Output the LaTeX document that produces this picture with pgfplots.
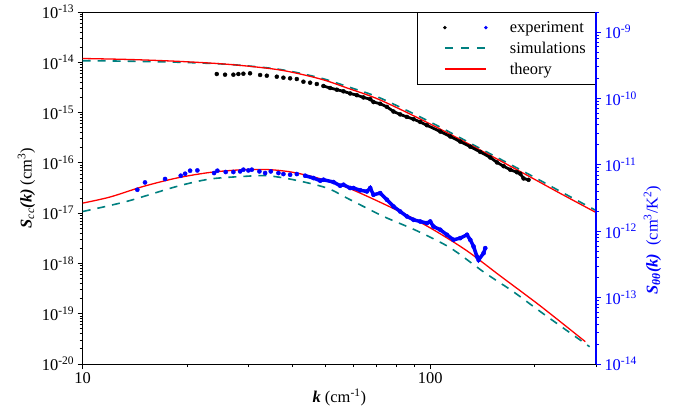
\documentclass[border=0pt]{standalone}
\usepackage{pgfplots}
\pgfplotsset{compat=1.18}
\usepackage{pgfplotstable}
\usepackage{fontspec}
\setmainfont{Liberation Serif}
\definecolor{simc}{RGB}{0,128,128}
\definecolor{thc}{RGB}{255,0,0}
\newcommand{\fs}{\fontsize{16.5}{19}\selectfont}

% upper (left axis) experiment, sparse part
\pgfplotstableread{
k S
24.31 5.85e-15
25.68 5.67e-15
27.14 5.67e-15
28.05 5.85e-15
29.00 5.93e-15
30.31 6.04e-15
32.40 5.59e-15
33.87 5.41e-15
36.19 5.17e-15
37.81 4.94e-15
39.53 4.80e-15
41.32 4.65e-15
43.17 4.11e-15
45.13 3.93e-15
47.18 3.70e-15
}\blackA
% upper experiment, dense part
\pgfplotstableread{
k S
49.29 3.38e-15
51.53 3.08e-15
53.87 2.85e-15
56.28 2.65e-15
58.84 2.40e-15
61.51 2.22e-15
64.27 2.00e-15
67.20 1.85e-15
68.68 1.62e-15
71.78 1.50e-15
75.05 1.30e-15
78.41 1.05e-15
81.97 9.20e-16
85.70 8.20e-16
89.53 7.40e-16
93.59 6.50e-16
97.84 5.60e-16
106.9 4.20e-16
114.2 3.35e-16
122.0 2.65e-16
130.4 2.10e-16
139.3 1.65e-16
148.9 1.28e-16
155.7 1.02e-16
162.6 8.60e-17
170.0 7.30e-17
177.7 6.50e-17
181.6 6.10e-17
185.6 4.90e-17
191.9 4.60e-17
}\blackB
% upper simulations
\pgfplotstableread{
k S
10 1.076e-14
13.7 1.05e-14
19.1 1.00e-14
26.6 9.04e-15
37.0 7.20e-15
48.3 4.88e-15
57.7 3.30e-15
71.8 1.95e-15
100 6.50e-16
139.3 1.93e-16
194 5.74e-17
237 2.70e-17
300 1.13e-17
}\simU
% upper theory
\pgfplotstableread{
k S
10 1.19e-14
13.7 1.136e-14
19.1 1.04e-14
26.6 9.04e-15
37.0 7.03e-15
48.3 4.66e-15
57.7 3.08e-15
71.8 1.78e-15
100 5.93e-16
139.3 1.80e-16
194 5.25e-17
237 2.46e-17
300 1.03e-17
}\thU
% lower (right axis) experiment
\pgfplotstableread{
k S
14.36 4.21e-12
15.11 5.43e-12
17.26 6.11e-12
19.15 6.85e-12
19.71 7.34e-12
20.37 8.15e-12
21.38 8.23e-12
23.88 7.52e-12
24.41 8.15e-12
25.80 7.79e-12
27.14 7.79e-12
28.38 7.95e-12
29.00 8.44e-12
29.98 8.23e-12
30.66 8.44e-12
32.25 7.95e-12
33.49 7.52e-12
34.78 7.95e-12
36.58 7.52e-12
37.81 7.26e-12
39.53 7.09e-12
41.32 7.26e-12
}\blueA
\pgfplotstableread{
k S
43.65 6.85e-12
46.13 6.32e-12
48.24 5.76e-12
49.29 5.96e-12
52.67 5.50e-12
55.06 4.84e-12
56.28 5.01e-12
58.84 4.47e-12
60.15 4.47e-12
62.88 4.14e-12
65.72 3.97e-12
67.20 4.47e-12
68.68 3.54e-12
71.78 3.75e-12
75.05 2.98e-12
78.41 2.36e-12
81.97 1.98e-12
85.70 1.67e-12
89.53 1.485e-12
93.59 1.40e-12
97.84 1.325e-12
100.0 1.40e-12
102.2 1.177e-12
106.9 1.05e-12
111.7 8.83e-13
116.7 7.42e-13
122.0 7.87e-13
127.6 8.83e-13
130.4 7.42e-13
133.3 5.88e-13
136.3 4.15e-13
137.8 3.70e-13
142.4 4.67e-13
144.0 5.56e-13
}\blueB
% lower theory
\pgfplotstableread{
k S
10 2.65e-12
11.98 3.27e-12
14.94 4.72e-12
18.65 6.32e-12
23.26 7.68e-12
29.00 8.44e-12
34.62 8.44e-12
40.41 7.68e-12
48.24 6.17e-12
58.84 4.36e-12
81.97 1.96e-12
102.2 1.05e-12
127.6 5.06e-13
159.1 2.12e-13
207.4 7.50e-14
279.5 2.17e-14
}\thL
% lower simulations
\pgfplotstableread{
k S
10 1.98e-12
13.39 2.81e-12
18.65 4.72e-12
23.26 6.11e-12
29.00 6.68e-12
33.87 6.85e-12
40.41 5.96e-12
50.42 4.47e-12
58.84 2.98e-12
73.37 1.67e-12
91.56 1.014e-12
114.2 5.62e-13
142.4 2.44e-13
173.7 1.22e-13
211.9 5.68e-14
287.6 1.82e-14
}\simL

\begin{document}
\begin{tikzpicture}
\begin{axis}[
  at={(0bp,0bp)}, anchor=south west,
  scale only axis, width=513.3bp, height=352bp,
  xmode=log, ymode=log,
  xmin=10, xmax=300, ymin=1e-20, ymax=1e-13,
  xtick={10,100}, xticklabels={10,100},
  minor xtick={20,30,40,50,60,70,80,90,200,300},
  ytick={1e-20,1e-19,1e-18,1e-17,1e-16,1e-15,1e-14,1e-13},
  yticklabels={10\textsuperscript{-20},10\textsuperscript{-19},10\textsuperscript{-18},10\textsuperscript{-17},10\textsuperscript{-16},10\textsuperscript{-15},10\textsuperscript{-14},10\textsuperscript{-13}},
  minor ytick={2e-20,3e-20,4e-20,5e-20,6e-20,7e-20,8e-20,9e-20,
    2e-19,3e-19,4e-19,5e-19,6e-19,7e-19,8e-19,9e-19,
    2e-18,3e-18,4e-18,5e-18,6e-18,7e-18,8e-18,9e-18,
    2e-17,3e-17,4e-17,5e-17,6e-17,7e-17,8e-17,9e-17,
    2e-16,3e-16,4e-16,5e-16,6e-16,7e-16,8e-16,9e-16,
    2e-15,3e-15,4e-15,5e-15,6e-15,7e-15,8e-15,9e-15,
    2e-14,3e-14,4e-14,5e-14,6e-14,7e-14,8e-14,9e-14},
  xtick pos=bottom, ytick pos=left,
  tick align=outside,
  major tick length=5bp, minor tick length=3bp,
  axis line style={line width=0.9bp},
  tick style={line width=0.8bp, black},
  ticklabel style={font=\fs},
  xlabel={\textbf{\textit{k}} (cm\textsuperscript{-1})},
  ylabel={\textbf{\textit{S}}\textsubscript{\textit{cc}}\textbf{\textit{(k)}} (cm\textsuperscript{3})},
  label style={font=\fs},
  xlabel style={yshift=2bp},
  legend style={at={(1,1)}, anchor=north east, draw=black, line width=0.7bp,
    fill=white, font=\fs, inner xsep=8bp, inner ysep=7bp, row sep=4bp},
  legend cell align=left,
]
\addlegendimage{legend image code/.code={
  \fill[black, draw=none] (0bp,0bp) circle (1.9bp);
  \fill[blue, draw=none] (41bp,0bp) circle (1.9bp);
  \path[draw=none, fill=none] (-20bp,0bp) -- (63bp,0bp);}}
\addlegendentry{experiment}
\addlegendimage{legend image code/.code={
  \draw[simc, line width=1.6bp, dash pattern=on 8bp off 8bp] (0bp,0bp) -- (42bp,0bp);
  \path[draw=none, fill=none] (-20bp,0bp) -- (63bp,0bp);}}
\addlegendentry{simulations}
\addlegendimage{legend image code/.code={
  \draw[thc, line width=1.3bp] (0bp,0bp) -- (41bp,0bp);
  \path[draw=none, fill=none] (-20bp,0bp) -- (63bp,0bp);}}
\addlegendentry{theory}

\addplot[simc, line width=1.6bp, dash pattern=on 8bp off 7bp, smooth, forget plot] table[x=k,y=S] {\simU};
\addplot[thc, line width=1.3bp, smooth, forget plot] table[x=k,y=S] {\thU};
\addplot[black, only marks, mark=*, mark size=2bp, forget plot] table[x=k,y=S] {\blackA};
\addplot[black, line width=2.8bp, forget plot] table[x=k,y=S] {\blackB};
\addplot[black, only marks, mark=*, mark size=2bp, forget plot] table[x=k,y=S] {\blackB};
\end{axis}

\begin{axis}[
  at={(0bp,0bp)}, anchor=south west,
  scale only axis, width=513.3bp, height=352bp,
  xmode=log, ymode=log,
  xmin=10, xmax=300, ymin=1e-14, ymax=2e-9,
  axis x line=none, axis y line*=right,
  y axis line style={blue, line width=1.2bp},
  ytick={1e-14,1e-13,1e-12,1e-11,1e-10,1e-9},
  yticklabels={10\textsuperscript{-14},10\textsuperscript{-13},10\textsuperscript{-12},10\textsuperscript{-11},10\textsuperscript{-10},10\textsuperscript{-9}},
  minor ytick={2e-14,3e-14,4e-14,5e-14,6e-14,7e-14,8e-14,9e-14,
    2e-13,3e-13,4e-13,5e-13,6e-13,7e-13,8e-13,9e-13,
    2e-12,3e-12,4e-12,5e-12,6e-12,7e-12,8e-12,9e-12,
    2e-11,3e-11,4e-11,5e-11,6e-11,7e-11,8e-11,9e-11,
    2e-10,3e-10,4e-10,5e-10,6e-10,7e-10,8e-10,9e-10,2e-9},
  tick align=outside,
  major tick length=5bp, minor tick length=3bp,
  tick style={line width=0.8bp, blue},
  yticklabel style={font=\fs, text=blue},
  ylabel={\textbf{\textit{S}}\textsubscript{\textbf{\textit{θθ}}}\textbf{\textit{(k)}}\ \ (cm\textsuperscript{3}/K\textsuperscript{2})},
  ylabel style={font=\fs, text=blue, at={(ticklabel cs:0.352)}},
]
\addplot[simc, line width=1.6bp, dash pattern=on 8bp off 7bp, smooth] table[x=k,y=S] {\simL};
\addplot[thc, line width=1.3bp, smooth] table[x=k,y=S] {\thL};
\addplot[blue, only marks, mark=*, mark size=2.1bp] table[x=k,y=S] {\blueA};
\addplot[blue, line width=3.5bp] table[x=k,y=S] {\blueB};
\addplot[blue, only marks, mark=*, mark size=2.1bp] table[x=k,y=S] {\blueB};
\end{axis}
\pgfresetboundingbox
\useasboundingbox (-82.7bp,-47bp) rectangle (592.3bp,364bp);
\end{tikzpicture}
\end{document}
